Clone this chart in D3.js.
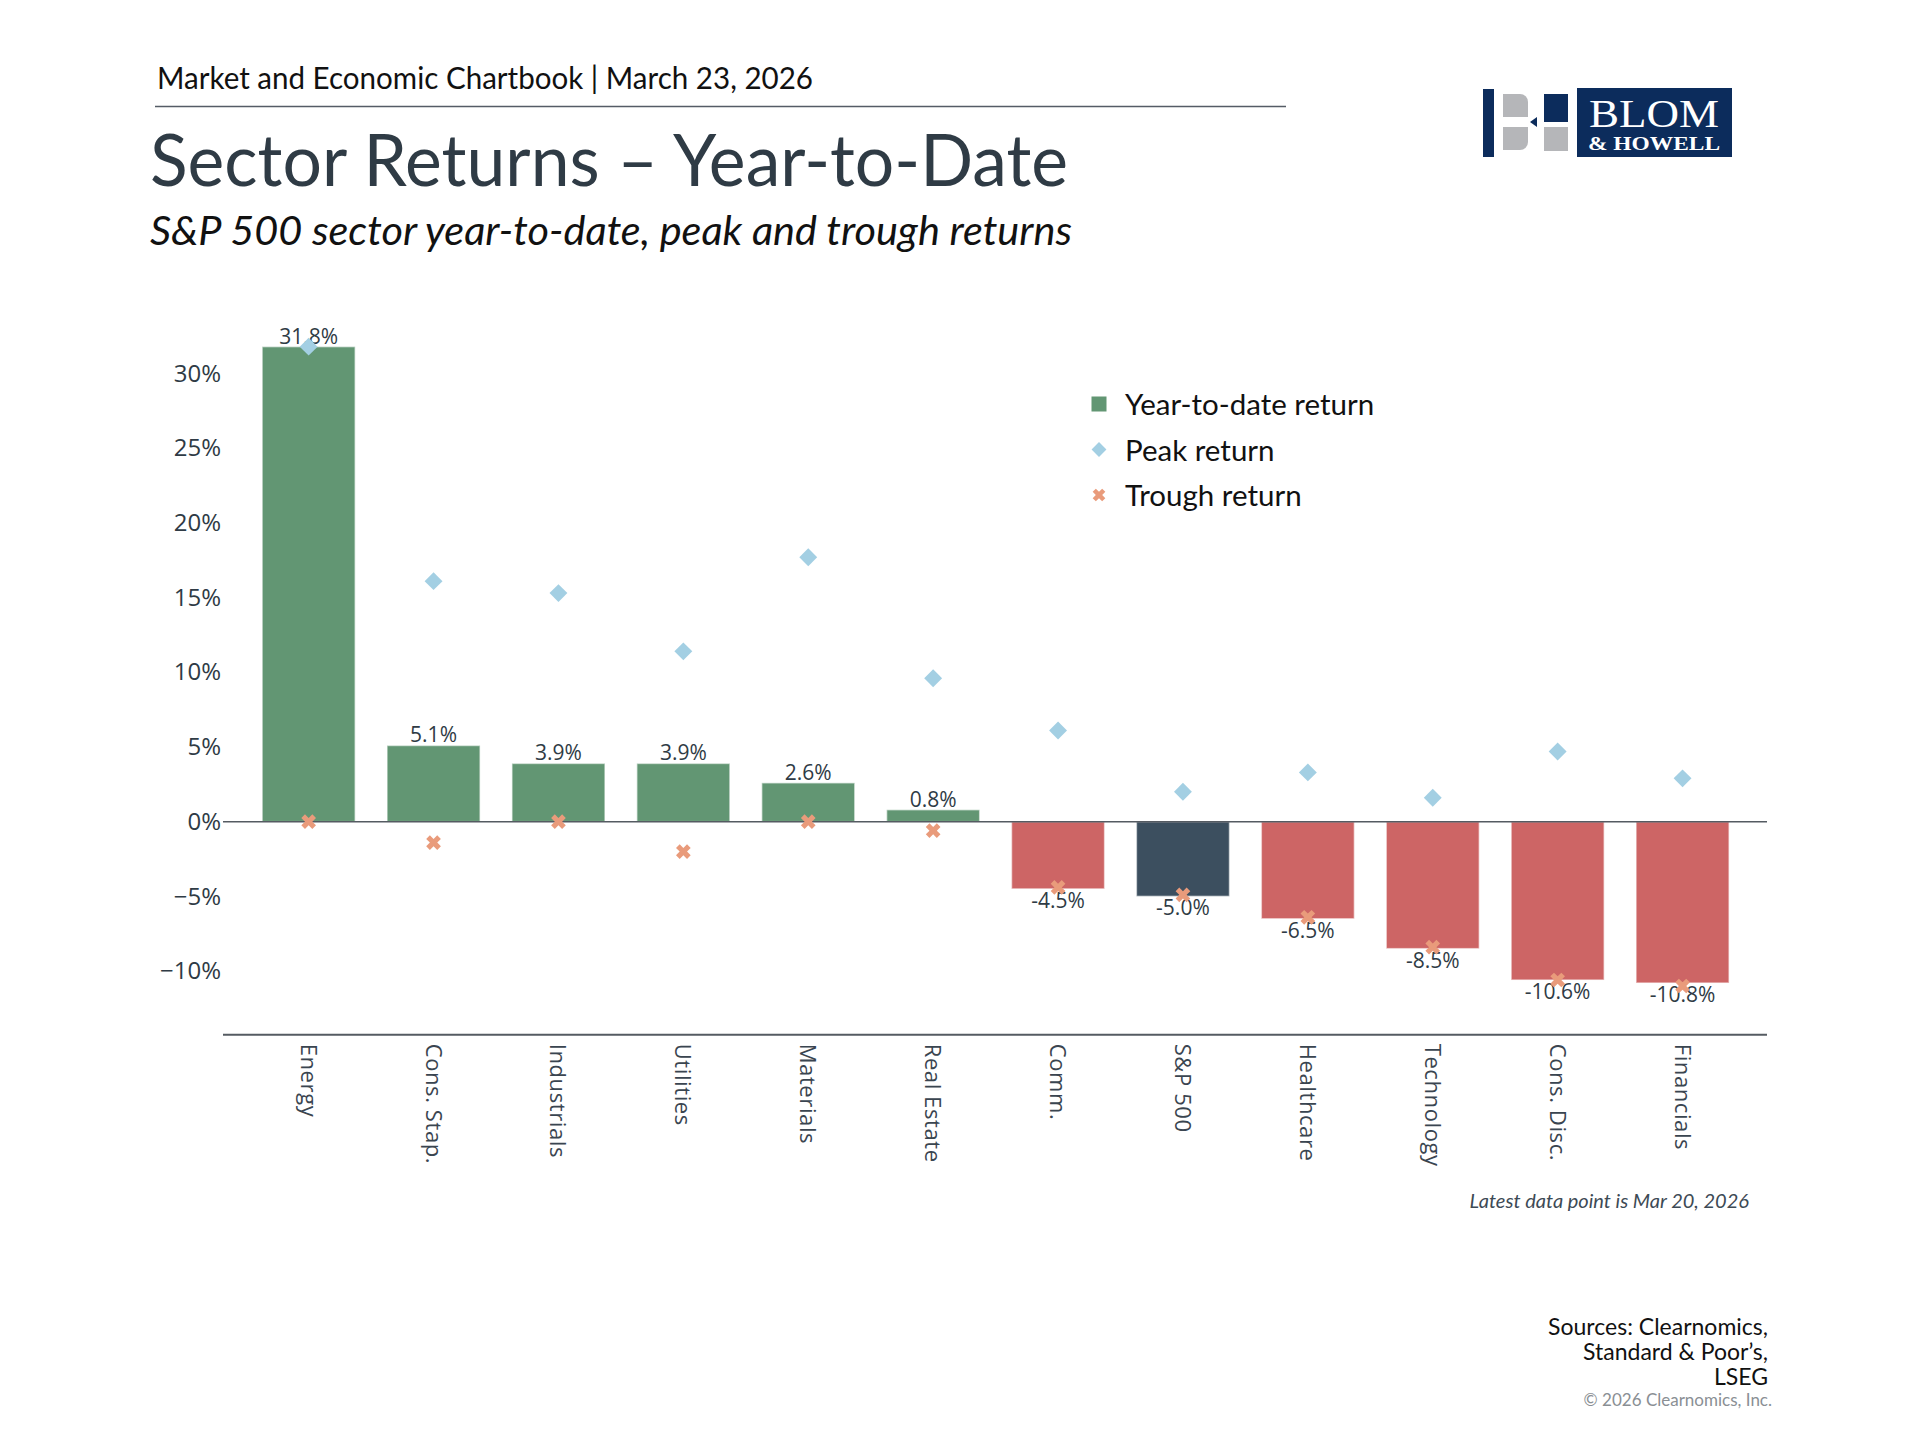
<!DOCTYPE html>
<html>
<head>
<meta charset="utf-8">
<script src="https://cdn.jsdelivr.net/npm/d3@7"></script>
<style>
  body { margin: 0; background: #fff; }
  svg { display: block; }
  .serif { font-family: "Liberation Serif", "DejaVu Serif", serif; }
</style>
</head>
<body>
<div id="chart"></div>
<script>
// sectors, sorted the way the chartbook shows them
const sectors = ["Energy", "Cons. Stap.", "Industrials", "Utilities", "Materials", "Real Estate",
                 "Comm.", "S&P 500", "Healthcare", "Technology", "Cons. Disc.", "Financials"];
const ytdReturn = [31.8, 5.1, 3.9, 3.9, 2.6, 0.8, -4.5, -5.0, -6.5, -8.5, -10.6, -10.8];
const peakReturn = [31.8, 16.1, 15.3, 11.4, 17.7, 9.6, 6.1, 2.0, 3.3, 1.6, 4.7, 2.9];
const troughReturn = [0.0, -1.4, 0.0, -2.0, 0.0, -0.6, -4.4, -4.9, -6.4, -8.4, -10.6, -11.0];
const yTicks = [30, 25, 20, 15, 10, 5, 0, -5, -10];
const legendItems = ["Year-to-date return", "Peak return", "Trough return"];

const W = 1920, H = 1440;
const green = "#629673", red = "#cd6565", navy = "#3c4f5f";
const peakColor = "#a3cfe3", troughColor = "#e99b7b";
const textDark = "#2f3b45";
const headFont = "Lato, 'Noto Sans', sans-serif";
const axisFont = "'Open Sans', 'Noto Sans', sans-serif";

const svg = d3.select("#chart").append("svg")
    .attr("width", W)
    .attr("height", H);

// ---- header ----
svg.append("text")
    .attr("x", 157).attr("y", 89)
    .attr("font-family", headFont).attr("font-size", 30)
    .attr("fill", "#111")
    .attr("textLength", 656).attr("lengthAdjust", "spacingAndGlyphs")
    .text("Market and Economic Chartbook | March 23, 2026");

svg.append("line")
    .attr("x1", 155).attr("x2", 1286)
    .attr("y1", 106.5).attr("y2", 106.5)
    .attr("stroke", "#555c66").attr("stroke-width", 1.5);

svg.append("text")
    .attr("x", 150).attr("y", 186)
    .attr("font-family", headFont).attr("font-size", 71)
    .attr("fill", textDark)
    .attr("textLength", 918).attr("lengthAdjust", "spacingAndGlyphs")
    .text("Sector Returns \u2013 Year-to-Date");

svg.append("text")
    .attr("x", 150).attr("y", 245)
    .attr("font-family", headFont).attr("font-size", 40)
    .attr("font-style", "italic")
    .attr("fill", "#111")
    .attr("textLength", 922).attr("lengthAdjust", "spacingAndGlyphs")
    .text("S&P 500 sector year-to-date, peak and trough returns");

// ---- logo ----
const logo = svg.append("g").attr("transform", "translate(1483,88)");
logo.append("rect").attr("x", 0).attr("y", 1).attr("width", 11).attr("height", 68).attr("fill", "#0c2c5c");
logo.append("path")
    .attr("d", "M20,6 h17 a8,8 0 0 1 8,8 v15 h-25 z")
    .attr("fill", "#b5b6b9");
logo.append("path")
    .attr("d", "M20,39 h25 v15 a8,8 0 0 1 -8,8 h-17 z")
    .attr("fill", "#b5b6b9");
logo.append("path").attr("d", "M47,34 l7,-5 v10 z").attr("fill", "#0c2c5c");
logo.append("rect").attr("x", 61).attr("y", 6).attr("width", 24).attr("height", 28).attr("fill", "#0c2c5c");
logo.append("rect").attr("x", 61).attr("y", 39).attr("width", 24).attr("height", 24).attr("fill", "#b5b6b9");
logo.append("rect").attr("x", 94).attr("y", 0).attr("width", 155).attr("height", 69).attr("fill", "#0c2c5c");
logo.append("text").attr("class", "serif")
    .attr("x", 171).attr("y", 39)
    .attr("text-anchor", "middle")
    .attr("font-size", 40).attr("fill", "#fff")
    .attr("textLength", 130).attr("lengthAdjust", "spacingAndGlyphs")
    .text("BLOM");
logo.append("text").attr("class", "serif")
    .attr("x", 171).attr("y", 62)
    .attr("text-anchor", "middle")
    .attr("font-size", 19).attr("font-weight", "bold").attr("fill", "#fff")
    .attr("textLength", 132).attr("lengthAdjust", "spacingAndGlyphs")
    .text("& HOWELL");

// ---- scales ----
const x = d3.scaleBand()
    .domain(sectors)
    .range([246.2, 1745])
    .paddingInner(0.255)
    .paddingOuter(0.1275);

const y = d3.scaleLinear()
    .domain([-14.26, 33])
    .range([1034.7, 328.7]);

const plotLeft = 223, plotRight = 1767;

// y axis, labels only
const fmtTick = d => (d < 0 ? "\u2212" + Math.abs(d) : d) + "%";
svg.append("g")
    .attr("transform", `translate(${plotLeft},0)`)
    .call(d3.axisLeft(y).tickValues(yTicks).tickSize(0).tickPadding(2).tickFormat(fmtTick))
    .call(g => g.select(".domain").remove())
    .call(g => g.selectAll("text")
        .attr("font-family", axisFont)
        .attr("font-size", 24)
        .attr("fill", textDark));

// bars
const rows = sectors.map((s, i) => ({
    name: s, ytd: ytdReturn[i], peak: peakReturn[i], trough: troughReturn[i]
}));

svg.append("g").selectAll("rect")
    .data(rows)
    .join("rect")
    .attr("x", d => x(d.name))
    .attr("width", x.bandwidth())
    .attr("y", d => y(Math.max(0, d.ytd)))
    .attr("height", d => Math.abs(y(d.ytd) - y(0)))
    .attr("fill", d => d.name === "S&P 500" ? navy : (d.ytd >= 0 ? green : red))
    .attr("stroke", "rgba(255,255,255,0.55)")
    .attr("stroke-width", 1.5);

// zero line and bottom axis line
svg.append("line")
    .attr("x1", plotLeft).attr("x2", plotRight)
    .attr("y1", y(0)).attr("y2", y(0))
    .attr("stroke", "#555b62").attr("stroke-width", 1.5);

const xAxis = svg.append("g")
    .attr("transform", `translate(0,${y.range()[0]})`)
    .call(d3.axisBottom(x).tickSize(0).tickPadding(0));
xAxis.select(".domain").remove();
xAxis.append("line")
    .attr("x1", plotLeft).attr("x2", plotRight)
    .attr("stroke", "#555b62").attr("stroke-width", 2);
xAxis.selectAll(".tick text")
    .attr("font-family", axisFont)
    .attr("font-size", 22)
    .attr("letter-spacing", 0.6)
    .attr("fill", "#3a4550")
    .attr("text-anchor", "start")
    .attr("dy", null)
    .attr("transform", "translate(-8,9) rotate(90)");

// value labels
svg.append("g").selectAll("text")
    .data(rows)
    .join("text")
    .attr("x", d => x(d.name) + x.bandwidth() / 2)
    .attr("y", d => d.ytd >= 0 ? y(d.ytd) - 3 : y(d.ytd) + 19)
    .attr("text-anchor", "middle")
    .attr("font-family", axisFont)
    .attr("font-size", 21)
    .attr("fill", textDark)
    .text(d => d.ytd.toFixed(1) + "%");

// peak and trough markers
const diamond = d3.symbol(d3.symbolSquare, 160)();
const cross = d3.symbol(d3.symbolCross, 135)();

svg.append("g").selectAll("path")
    .data(rows)
    .join("path")
    .attr("d", diamond)
    .attr("transform", d => `translate(${x(d.name) + x.bandwidth() / 2},${y(d.peak)}) rotate(45)`)
    .attr("fill", peakColor);

svg.append("g").selectAll("path")
    .data(rows)
    .join("path")
    .attr("d", cross)
    .attr("transform", d => `translate(${x(d.name) + x.bandwidth() / 2},${y(d.trough)}) rotate(45)`)
    .attr("fill", troughColor);

// ---- legend ----
const legend = svg.append("g").attr("transform", "translate(1099,404)");
legendItems.forEach((label, i) => {
    const g = legend.append("g").attr("transform", `translate(0,${i * 45.5})`);
    if (i === 0) {
        g.append("rect").attr("x", -7.5).attr("y", -7.5).attr("width", 15).attr("height", 15).attr("fill", green);
    } else if (i === 1) {
        g.append("path").attr("d", d3.symbol(d3.symbolSquare, 110)()).attr("transform", "rotate(45)").attr("fill", peakColor);
    } else {
        g.append("path").attr("d", d3.symbol(d3.symbolCross, 100)()).attr("transform", "rotate(45)").attr("fill", troughColor);
    }
    g.append("text")
        .attr("x", 26).attr("y", 11)
        .attr("font-family", headFont).attr("font-size", 29.5)
        .attr("fill", "#111")
        .text(label);
});

// ---- footnotes ----
svg.append("text")
    .attr("x", 1749).attr("y", 1208)
    .attr("text-anchor", "end")
    .attr("font-family", headFont).attr("font-size", 20)
    .attr("font-style", "italic")
    .attr("fill", "#3d4a55")
    .text("Latest data point is Mar 20, 2026");

const sources = ["Sources: Clearnomics,", "Standard & Poor\u2019s,", "LSEG"];
svg.append("g").selectAll("text")
    .data(sources)
    .join("text")
    .attr("x", 1768)
    .attr("y", (d, i) => 1335 + i * 25)
    .attr("text-anchor", "end")
    .attr("font-family", headFont).attr("font-size", 23)
    .attr("fill", "#111")
    .text(d => d);

svg.append("text")
    .attr("x", 1772).attr("y", 1406)
    .attr("text-anchor", "end")
    .attr("font-family", headFont).attr("font-size", 17)
    .attr("fill", "#8a8f94")
    .text("\u00a9 2026 Clearnomics, Inc.");
</script>
</body>
</html>
